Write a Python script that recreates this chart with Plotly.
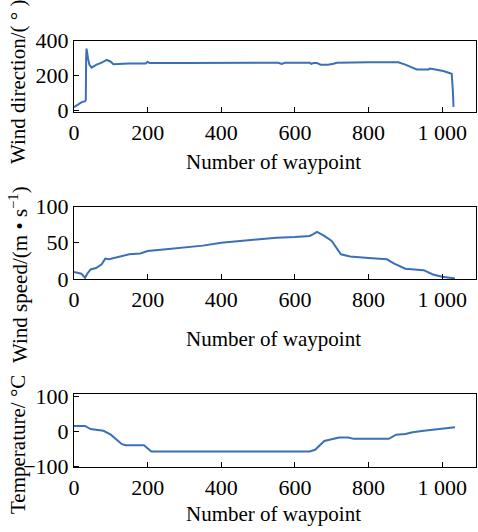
import plotly.graph_objects as go

# ---- data ----
dir_x = [0, 10, 20, 30, 32, 33, 34, 38, 42, 48, 60, 75, 89, 100, 107, 150, 195, 200, 205, 300, 400, 500, 555, 564, 573, 640, 645, 650, 660, 670, 690, 705, 714, 800, 881, 900, 931, 963, 967, 1003, 1026, 1029, 1031]
dir_y = [20, 35, 48, 55, 60, 300, 355, 300, 262, 246, 262, 275, 290, 280, 266, 270, 270, 280, 272, 272, 274, 274, 274, 267, 274, 274, 268, 272, 272, 263, 263, 268, 274, 277, 277, 263, 236, 236, 241, 227, 211, 120, 22]

spd_x = [0, 20, 30, 36, 45, 60, 75, 85, 95, 120, 150, 180, 200, 250, 300, 350, 400, 450, 500, 550, 600, 640, 650, 660, 680, 700, 725, 750, 800, 850, 870, 900, 950, 975, 1000, 1035]
spd_y = [9.3, 7, 1.4, 7, 13, 15, 20, 28, 27, 30, 34, 35, 38.6, 41, 43, 46, 50, 52.6, 55, 57, 58, 59.5, 62, 65, 59.5, 52.6, 34, 31, 29, 27, 21, 14, 12, 6, 2.8, 0.5]

tmp_x = [0, 30, 45, 60, 80, 100, 115, 130, 140, 190, 210, 400, 640, 655, 680, 700, 720, 745, 760, 855, 875, 900, 920, 950, 1000, 1035]
tmp_y = [15, 15, 6, 4, 1, -10, -23, -37, -40, -40, -58, -58, -58, -53, -28, -23, -18, -18, -22, -22, -10, -8, -3, 1, 6, 11]

x_tickvals = [0, 200, 400, 600, 800, 1000]
x_ticktext = ["0", "200", "400", "600", "800", "1 000"]

y_titles = ["Wind direction/( ° )", "Wind speed/(m • s<sup>−1</sup>)", "Temperature/ °C"]
x_title = "Number of waypoint"

W, H = 478, 532
L, R = 74, 476
FONT = "Liberation Serif"
LINE = "#3b6fb6"

panels = [
    dict(x=dir_x, y=dir_y, top=40.7, bot=112.3, rng=[-9, 400], tv=[0, 200, 400], tt=["0", "200", "400"], ytc=82, xtc=162),
    dict(x=spd_x, y=spd_y, top=206.7, bot=279.3, rng=[-0.7, 100], tv=[0, 50, 100], tt=["0", "50", "100"], ytc=275, xtc=339),
    dict(x=tmp_x, y=tmp_y, top=394.3, bot=467.3, rng=[-103, 105], tv=[-100, 0, 100], tt=["−100", "0", "100"], ytc=445, xtc=514),
]

fig = go.Figure()
layout = dict(
    width=W, height=H,
    margin=dict(l=L, r=W - R, t=0, b=0, autoexpand=False),
    paper_bgcolor="white", plot_bgcolor="white",
    showlegend=False,
    font=dict(family=FONT, size=21, color="black"),
)
annotations = []
for i, p in enumerate(panels):
    n = "" if i == 0 else str(i + 1)
    fig.add_trace(go.Scatter(x=p["x"], y=p["y"], mode="lines",
                             line=dict(color=LINE, width=2),
                             xaxis="x" + n, yaxis="y" + n))
    d0 = 1 - p["bot"] / H
    d1 = 1 - p["top"] / H
    layout["xaxis" + n] = dict(
        domain=[0, 1], range=[0, 1092], anchor="y" + n,
        tickvals=x_tickvals, ticktext=x_ticktext,
        ticks="inside", ticklen=5, tickcolor="black",
        showline=True, linecolor="black", linewidth=1, mirror=True,
        showgrid=False, zeroline=False,
        tickfont=dict(family=FONT, size=22),
    )
    layout["yaxis" + n] = dict(
        domain=[d0, d1], range=p["rng"], anchor="x" + n,
        tickvals=p["tv"], ticktext=p["tt"],
        ticks="inside", ticklen=5, tickcolor="black",
        showline=True, linecolor="black", linewidth=1, mirror=True,
        showgrid=False, zeroline=False,
        tickfont=dict(family=FONT, size=22),
    )
    annotations.append(dict(
        text=x_title, xref="paper", yref="paper",
        x=(273 - L) / (R - L), y=1 - p["xtc"] / H,
        xanchor="center", yanchor="middle", showarrow=False,
        font=dict(family=FONT, size=21),
    ))
    annotations.append(dict(
        text=y_titles[i], xref="paper", yref="paper",
        x=(18 - L) / (R - L), y=1 - p["ytc"] / H,
        xanchor="center", yanchor="middle", showarrow=False, textangle=-90,
        font=dict(family=FONT, size=21),
    ))
layout["annotations"] = annotations
fig.update_layout(**layout)
fig.write_html("out.html", config={"displayModeBar": False},
               post_script="document.body.style.margin='0';document.body.style.padding='0';")
